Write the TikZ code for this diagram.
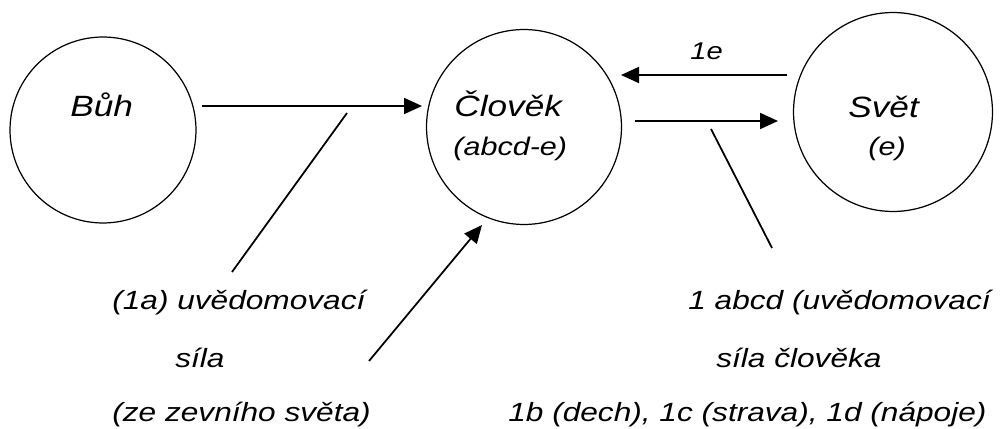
\documentclass[tikz,border=0pt]{standalone}
\usepackage{fontspec}
\setmainfont{Liberation Sans}[FakeStretch=1.2]
\usetikzlibrary{arrows.meta}
\begin{document}
\begin{tikzpicture}[x=0.02cm,y=-0.02cm,
  ring/.style={draw,circle,line width=0.7pt,inner sep=0pt},
  lbl/.style={inner sep=0pt,anchor=base west,font=\itshape\fontsize{15}{18}\selectfont},
  biglbl/.style={lbl,font=\itshape\fontsize{16.7}{20}\selectfont},
  smalllbl/.style={lbl,font=\itshape\fontsize{14.5}{17}\selectfont},
  tinylbl/.style={lbl,font=\itshape\fontsize{13.8}{16}\selectfont},
  flow/.style={line width=1pt,-{Triangle[length=0.36cm,width=0.32cm]}},
  pointer/.style={line width=1pt}]
\useasboundingbox (0,0) rectangle (1000,429);
% circles
\node[ring,minimum size=3.72cm] (buh) at (103,130) {};
\node[ring,minimum size=3.9cm] (clovek) at (524,127) {};
\node[ring,minimum size=3.98cm] (svet) at (893,112) {};
% circle texts
\node[biglbl] (tbuh) at (70,116) {Bůh};
\node[biglbl] (tclovek) at (454,116) {Člověk};
\node[smalllbl] (tabcde) at (453,155) {(abcd-e)};
\node[biglbl] (tsvet) at (848,117) {Svět};
\node[smalllbl] (te) at (868,155) {(e)};
\node[tinylbl] (t1e) at (690,60) {1e};
% bottom texts
\node[lbl] (l1) at (112,309) {(1a) uvědomovací};
\node[lbl] (l2) at (175,367) {síla};
\node[lbl] (l3) at (112,421) {(ze zevního světa)};
\node[lbl] (r1) at (688,309) {1 abcd (uvědomovací};
\node[lbl] (r2) at (716,367) {síla člověka};
\node[lbl] (r3) at (508,421) {1b (dech), 1c (strava), 1d (nápoje)};
% connector end points
\coordinate (a1s) at (202,106); \coordinate (a1e) at (422,106);
\coordinate (p1s) at (347,113); \coordinate (p1e) at (232,272);
\coordinate (a2s) at (369,361); \coordinate (a2e) at (482,225);
\coordinate (a3s) at (787,75);  \coordinate (a3e) at (621,75);
\coordinate (a4s) at (635,121); \coordinate (a4e) at (778,121);
\coordinate (p2s) at (711,129); \coordinate (p2e) at (772,248);
% connectors
\draw[flow] (a1s) -- (a1e);
\draw[pointer] (p1s) -- (p1e);
\draw[flow] (a2s) -- (a2e);
\draw[flow] (a3s) -- (a3e);
\draw[flow] (a4s) -- (a4e);
\draw[pointer] (p2s) -- (p2e);
\end{tikzpicture}
\end{document}
